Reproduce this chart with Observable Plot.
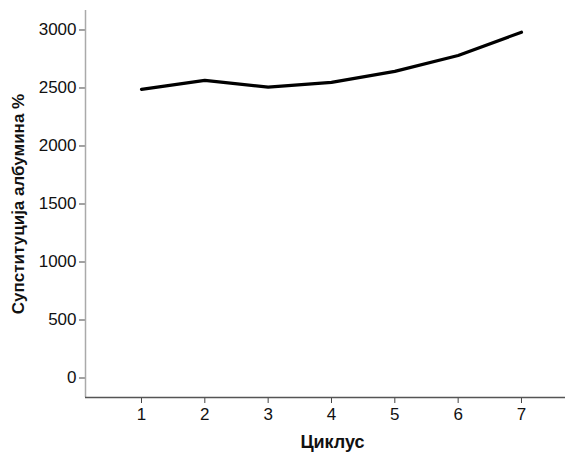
<!DOCTYPE html>
<html>
<head>
<meta charset="utf-8">
<script src="https://cdn.jsdelivr.net/npm/d3@7"></script>
<script src="https://cdn.jsdelivr.net/npm/@observablehq/plot@0.6"></script>
<style>
  html, body { margin: 0; padding: 0; background: #fff; }
  svg { display: block; }
</style>
</head>
<body>
<div id="chart"></div>
<script>
const cycles = [1, 2, 3, 4, 5, 6, 7];
const substitution = [2488, 2565, 2508, 2548, 2643, 2780, 2981];
const yTicks = [0, 500, 1000, 1500, 2000, 2500, 3000];
const xLabel = "Циклус";
const yLabel = "Супституција албумина %";

const data = cycles.map((c, i) => ({cycle: c, value: substitution[i]}));
const xDomain = [0.116, 7.695];
const yDomain = [-168, 3168];

const chart = Plot.plot({
  width: 566,
  height: 456,
  marginLeft: 85,
  marginRight: 1,
  marginTop: 10,
  marginBottom: 59,
  style: {fontFamily: "'Liberation Sans', Arial, sans-serif", fontSize: "17px", color: "#111", background: "#fff"},
  x: {domain: xDomain},
  y: {domain: yDomain},
  marks: [
    Plot.axisY({ticks: yTicks, tickSize: 6, tickPadding: 3, tickFormat: d => String(d), label: null, stroke: "#444", fill: "#111", fontSize: 17}),
    Plot.axisX({ticks: cycles, tickSize: 6, tickPadding: 4, tickFormat: d => String(d), label: null, stroke: "#444", fill: "#111", fontSize: 17}),
    Plot.ruleX([xDomain[0]], {stroke: "#aaa", strokeWidth: 1.5}),
    Plot.ruleY([yDomain[0]], {stroke: "#555", strokeWidth: 1.5}),
    Plot.lineY(data, {x: "cycle", y: "value", stroke: "#000", strokeWidth: 3.2}),
    Plot.text([xLabel], {frameAnchor: "bottom", dy: 50, dx: 7, fontWeight: "bold", fontSize: 18, fill: "#111"}),
    Plot.text([yLabel], {frameAnchor: "left", dx: -67, rotate: -90, textAnchor: "middle", fontWeight: "bold", fontSize: 17, fill: "#111"})
  ]
});
document.getElementById("chart").appendChild(chart);
</script>
</body>
</html>
